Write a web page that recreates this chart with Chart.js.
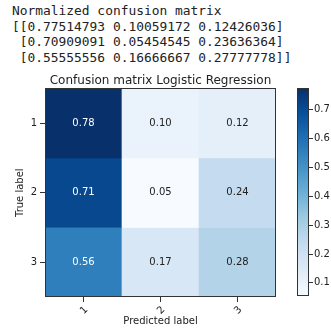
<!DOCTYPE html>
<html>
<head>
<meta charset="utf-8">
<script src="https://cdn.jsdelivr.net/npm/chart.js@4.4.0/dist/chart.umd.min.js"></script>
<style>
  html, body { margin: 0; padding: 0; background: #fff; width: 331px; height: 329px; overflow: hidden; }
  #out { position: absolute; left: 12px; top: 3px; margin: 0; font: 12.9px/15.5px "DejaVu Sans Mono", monospace; color: #222; white-space: pre; }
  #cm { position: absolute; left: 0; top: 70px; }
  #cbar { position: absolute; left: 290px; top: 70px; }
</style>
</head>
<body>
<pre id="out"></pre>
<canvas id="cm" width="290" height="259"></canvas>
<canvas id="cbar" width="41" height="259"></canvas>
<script>
const classes = ['1', '2', '3'];
const row1 = [0.77514793, 0.10059172, 0.12426036];
const row2 = [0.70909091, 0.05454545, 0.23636364];
const row3 = [0.55555556, 0.16666667, 0.27777778];
const rows = [row1, row2, row3];
const cbarTicks = [0.1, 0.2, 0.3, 0.4, 0.5, 0.6, 0.7];

// matplotlib "Blues"
const bluesStops = [
    [247, 251, 255], [222, 235, 247], [198, 219, 239], [158, 202, 225], [107, 174, 214],
    [66, 146, 198], [33, 113, 181], [8, 81, 156], [8, 48, 107]
];

const allValues = rows.flat();
const vmin = Math.min(...allValues);
const vmax = Math.max(...allValues);
const thresh = vmax / 2;

const textColor = '#222';
const lineColor = '#333';
const font = { family: 'DejaVu Sans', size: 10 };

function rgb(c) {
    return `rgb(${Math.round(c[0])},${Math.round(c[1])},${Math.round(c[2])})`;
}

function blues(v) {
    const t = Math.max(0, Math.min(1, (v - vmin) / (vmax - vmin)));
    const p = t * (bluesStops.length - 1);
    const i = Math.min(bluesStops.length - 2, Math.floor(p));
    const f = p - i;
    const a = bluesStops[i], b = bluesStops[i + 1];
    return rgb([0, 1, 2].map(k => a[k] + (b[k] - a[k]) * f));
}

document.getElementById('out').textContent = 'Normalized confusion matrix\n' +
    rows.map((r, i) => (i === 0 ? '[[' : ' [') + r.map(v => v.toFixed(8)).join(' ') +
        (i === rows.length - 1 ? ']]' : ']')).join('\n');

const frame = {
    id: 'frame',
    afterDatasetsDraw(chart) {
        const a = chart.chartArea;
        const ctx = chart.ctx;
        ctx.save();
        ctx.strokeStyle = lineColor;
        ctx.lineWidth = 1;
        const l = Math.round(a.left) + 0.5, t = Math.round(a.top) + 0.5;
        ctx.strokeRect(l, t, Math.round(a.right) - Math.round(a.left) - 1, Math.round(a.bottom) - Math.round(a.top) - 1);
        ctx.restore();
    }
};

const cellText = {
    id: 'cellText',
    afterDatasetsDraw(chart) {
        const ctx = chart.ctx;
        ctx.save();
        ctx.font = `${font.size}px ${font.family}`;
        ctx.textAlign = 'center';
        ctx.textBaseline = 'middle';
        chart.data.datasets.forEach((ds, i) => {
            chart.getDatasetMeta(i).data.forEach((el, j) => {
                const v = ds.values[j];
                const p = el.getCenterPoint();
                ctx.fillStyle = v > thresh ? '#fff' : textColor;
                ctx.fillText(v.toFixed(2), p.x, p.y);
            });
        });
        ctx.restore();
    }
};

new Chart(document.getElementById('cm'), {
    type: 'bar',
    data: {
        labels: classes,
        datasets: rows.map((r, i) => ({
            label: classes[i],
            data: r.map(() => [i + 0.5, i + 1.5]),
            values: r,
            backgroundColor: r.map(blues),
            borderWidth: 0,
            barPercentage: 1,
            categoryPercentage: 1,
            grouped: false
        }))
    },
    options: {
        responsive: false,
        animation: false,
        layout: { padding: { left: 0, right: 14, top: 0, bottom: 0 } },
        plugins: {
            legend: { display: false },
            tooltip: { enabled: false },
            title: {
                display: true,
                fullSize: false,
                text: 'Confusion matrix Logistic Regression',
                color: textColor,
                font: { family: 'DejaVu Sans', size: 12, weight: 'normal' },
                padding: { top: 4, bottom: 0 }
            }
        },
        scales: {
            x: {
                grid: { offset: false, drawOnChartArea: false, tickLength: 5, color: lineColor },
                border: { display: false },
                ticks: { minRotation: 45, maxRotation: 45, padding: 2, labelOffset: 3, color: textColor, font },
                title: { display: true, text: 'Predicted label', color: textColor, font, padding: { top: 0, bottom: 2 } },
                afterFit: s => { s.height = 32; }
            },
            y: {
                min: 0.5,
                max: 3.5,
                reverse: true,
                afterBuildTicks: s => { s.ticks = classes.map((c, i) => ({ value: i + 1 })); },
                grid: { drawOnChartArea: false, tickLength: 5, color: lineColor },
                border: { display: false },
                ticks: { callback: v => classes[v - 1], padding: 3, color: textColor, font },
                title: { display: true, text: 'True label', color: textColor, font, padding: { top: 14, bottom: 0 } },
                afterFit: s => { s.width = 45; }
            }
        }
    },
    plugins: [frame, cellText]
});

new Chart(document.getElementById('cbar'), {
    type: 'bar',
    data: {
        labels: [''],
        datasets: [{
            data: [[vmin, vmax]],
            backgroundColor: ctx => {
                const area = ctx.chart.chartArea;
                if (!area) return blues(vmin);
                const g = ctx.chart.ctx.createLinearGradient(0, area.bottom, 0, area.top);
                bluesStops.forEach((c, k) => g.addColorStop(k / (bluesStops.length - 1), rgb(c)));
                return g;
            },
            borderWidth: 0,
            barPercentage: 1,
            categoryPercentage: 1
        }]
    },
    options: {
        responsive: false,
        animation: false,
        layout: { padding: { left: 7, right: 0, top: 18, bottom: 33 } },
        plugins: { legend: { display: false }, tooltip: { enabled: false } },
        scales: {
            x: { display: false },
            y: {
                position: 'right',
                min: vmin,
                max: vmax,
                afterBuildTicks: s => { s.ticks = cbarTicks.map(v => ({ value: v })); },
                grid: { drawOnChartArea: false, tickLength: 4, color: lineColor },
                border: { display: false },
                ticks: { callback: v => v.toFixed(1), padding: 1, color: textColor, font },
                afterFit: s => { s.width = 22; }
            }
        }
    },
    plugins: [frame]
});
</script>
</body>
</html>
